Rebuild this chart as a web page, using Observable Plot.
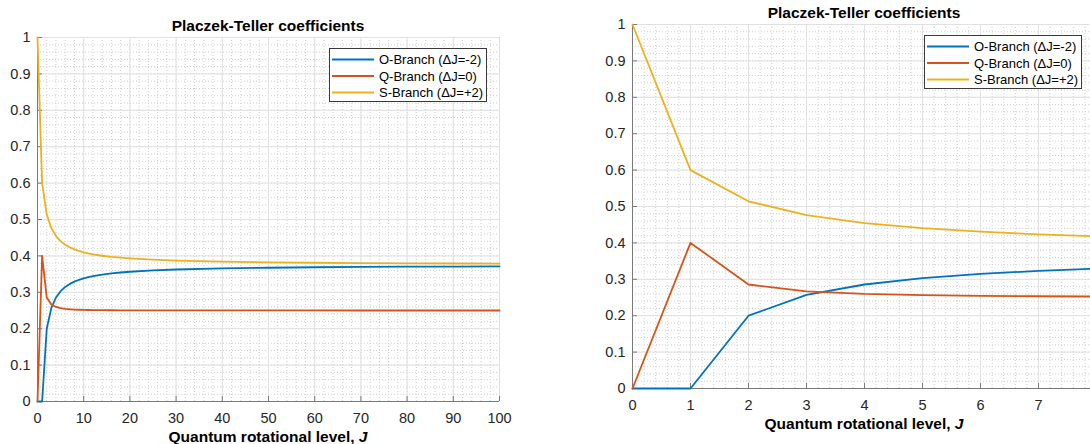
<!DOCTYPE html>
<html>
<head>
<meta charset="utf-8">
<script src="https://cdn.jsdelivr.net/npm/d3@7"></script>
<script src="https://cdn.jsdelivr.net/npm/@observablehq/plot@0.6"></script>
<style>
  html, body { margin: 0; padding: 0; background: #fff; }
  #page { position: relative; width: 1090px; height: 444px; overflow: hidden;
          font-family: "Liberation Sans", Arial, Helvetica, sans-serif; color: #262626; }
  .panel { position: absolute; }
  .title, .xlabel { position: absolute; font-weight: bold; font-size: 15.5px; line-height: 12px;
                    text-align: center; color: #000; white-space: nowrap; }
  .legend { position: absolute; }
</style>
</head>
<body>
<div id="page"></div>
<script>
// Rotational quantum number J and the Placzek-Teller coefficient of each branch
const J       = [0, 1, 2, 3, 4, 5, 6, 7, 8, 9, 10, 11, 12, 14, 16, 18, 20, 25, 30, 40, 50, 60, 70, 80, 90, 100];
const oBranch = [0, 0, 0.2, 0.2571, 0.2857, 0.3030, 0.3147, 0.3231, 0.3294, 0.3344, 0.3383, 0.3416, 0.3443,
                 0.3487, 0.3519, 0.3544, 0.3565, 0.3601, 0.3626, 0.3657, 0.3675, 0.3688, 0.3697, 0.3703, 0.3708, 0.3713];
const qBranch = [0, 0.4, 0.2857, 0.2667, 0.2597, 0.2564, 0.2545, 0.2534, 0.2526, 0.2521, 0.2517, 0.2514, 0.2512,
                 0.2509, 0.2507, 0.2505, 0.2504, 0.2503, 0.2502, 0.2501, 0.2501, 0.2501, 0.2500, 0.2500, 0.2500, 0.2500];
const sBranch = [1, 0.6, 0.5143, 0.4762, 0.4545, 0.4406, 0.4308, 0.4235, 0.4180, 0.4135, 0.4099, 0.4070, 0.4044,
                 0.4004, 0.3974, 0.3950, 0.3931, 0.3896, 0.3872, 0.3842, 0.3824, 0.3812, 0.3803, 0.3796, 0.3791, 0.3787];

const seriesNames  = ["O-Branch (\u0394J=-2)", "Q-Branch (\u0394J=0)", "S-Branch (\u0394J=+2)"];
const seriesColors = ["#0072BD", "#D95319", "#EDB120"];

const yTicks      = [0, 0.1, 0.2, 0.3, 0.4, 0.5, 0.6, 0.7, 0.8, 0.9, 1];
const wideXTicks  = [0, 10, 20, 30, 40, 50, 60, 70, 80, 90, 100];
const zoomXTicks  = [0, 1, 2, 3, 4, 5, 6, 7];

const titleText  = "Placzek-Teller coefficients";
const xLabelHtml = "Quantum rotational level, <i>J</i>";

// long-format table for Plot
const rows = [oBranch, qBranch, sBranch].flatMap((vals, k) =>
  J.map((j, i) => ({J: j, b: vals[i], branch: seriesNames[k]})));

const page = document.getElementById("page");

const FRAME_H = 364;
const M = {left: 37, top: 37, bottom: 43, right: 12};

function panel({frameLeft, frameTop, frameWidth, xDomain, xTicks, xMinorStep}) {
  const xMinor = d3.range(xDomain[0], xDomain[1] + 1e-9, xMinorStep);
  const xMajor = d3.range(xDomain[0], xDomain[1] + 1e-9, xTicks[1] - xTicks[0]);
  const yMinor = d3.range(0, 51).map(i => i / 50);
  const data = rows.filter(d => d.J <= xDomain[1]);
  const width = M.left + frameWidth + M.right;
  const svg = Plot.plot({
    width,
    height: M.top + FRAME_H + M.bottom,
    marginLeft: M.left, marginRight: M.right, marginTop: M.top, marginBottom: M.bottom,
    style: {fontFamily: "'Liberation Sans', Arial, Helvetica, sans-serif", fontSize: "14.5px",
            color: "#262626", background: "transparent", maxWidth: "none", overflow: "visible"},
    x: {domain: xDomain},
    y: {domain: [0, 1]},
    color: {domain: seriesNames, range: seriesColors},
    marks: [
      // minor grid (dotted), then major grid (solid)
      Plot.gridX(xMinor, {stroke: "#cfcfcf", strokeOpacity: 1, strokeDasharray: "1,2"}),
      Plot.gridY(yMinor, {stroke: "#cfcfcf", strokeOpacity: 1, strokeDasharray: "1,2"}),
      Plot.gridX(xMajor, {stroke: "#e1e1e1", strokeOpacity: 1}),
      Plot.gridY(yTicks, {stroke: "#e1e1e1", strokeOpacity: 1}),
      // axis lines on left and bottom only
      Plot.ruleX([xDomain[0]], {stroke: "#7a7a7a"}),
      Plot.ruleY([0], {stroke: "#7a7a7a"}),
      Plot.axisX({ticks: xTicks, tickSize: -5, tickPadding: 16, label: null, stroke: "#7a7a7a",
                  tickFormat: d => String(d)}),
      Plot.axisY({ticks: yTicks, tickSize: -5, tickPadding: 12, label: null, stroke: "#7a7a7a",
                  tickFormat: d => String(+d.toFixed(1))}),
      Plot.line(data, {x: "J", y: "b", stroke: "branch", strokeWidth: 1.8})
    ]
  });
  const holder = document.createElement("div");
  holder.className = "panel";
  holder.style.left = (frameLeft - M.left) + "px";
  holder.style.top = (frameTop - M.top) + "px";
  holder.style.width = width + "px";
  holder.appendChild(svg);
  page.appendChild(holder);

  const center = frameLeft + frameWidth / 2;
  const title = document.createElement("div");
  title.className = "title";
  title.textContent = titleText;
  title.style.left = (center - 200) + "px";
  title.style.width = "400px";
  title.style.top = (frameTop - 16.7) + "px";
  page.appendChild(title);

  const xl = document.createElement("div");
  xl.className = "xlabel";
  xl.innerHTML = xLabelHtml;
  xl.style.left = (center - 200) + "px";
  xl.style.width = "400px";
  xl.style.top = (frameTop + FRAME_H + 29.8) + "px";
  page.appendChild(xl);

  legend(frameLeft + 292, frameTop + 11);
}

function legend(left, top) {
  const w = 158, h = 54;
  const svg = d3.create("svg").attr("class", "legend").attr("width", w).attr("height", h)
    .style("left", left + "px").style("top", top + "px");
  svg.append("rect").attr("x", 0.5).attr("y", 0.5).attr("width", w - 1).attr("height", h - 1)
    .attr("fill", "#fff").attr("stroke", "#3a3a3a");
  seriesNames.forEach((name, i) => {
    const cy = 11.5 + i * 16.5;
    svg.append("line").attr("x1", 3).attr("x2", 45).attr("y1", cy).attr("y2", cy)
      .attr("stroke", seriesColors[i]).attr("stroke-width", 1.8);
    svg.append("text").attr("x", 50).attr("y", cy).attr("dy", "0.35em")
      .attr("font-family", "'Liberation Sans', Arial, sans-serif").attr("font-size", 13)
      .attr("fill", "#000").text(name);
  });
  page.appendChild(svg.node());
}

panel({frameLeft: 37, frameTop: 37, frameWidth: 462, xDomain: [0, 100], xTicks: wideXTicks, xMinorStep: 2});
panel({frameLeft: 632, frameTop: 24, frameWidth: 464, xDomain: [0, 8], xTicks: zoomXTicks, xMinorStep: 0.2});
</script>
</body>
</html>
